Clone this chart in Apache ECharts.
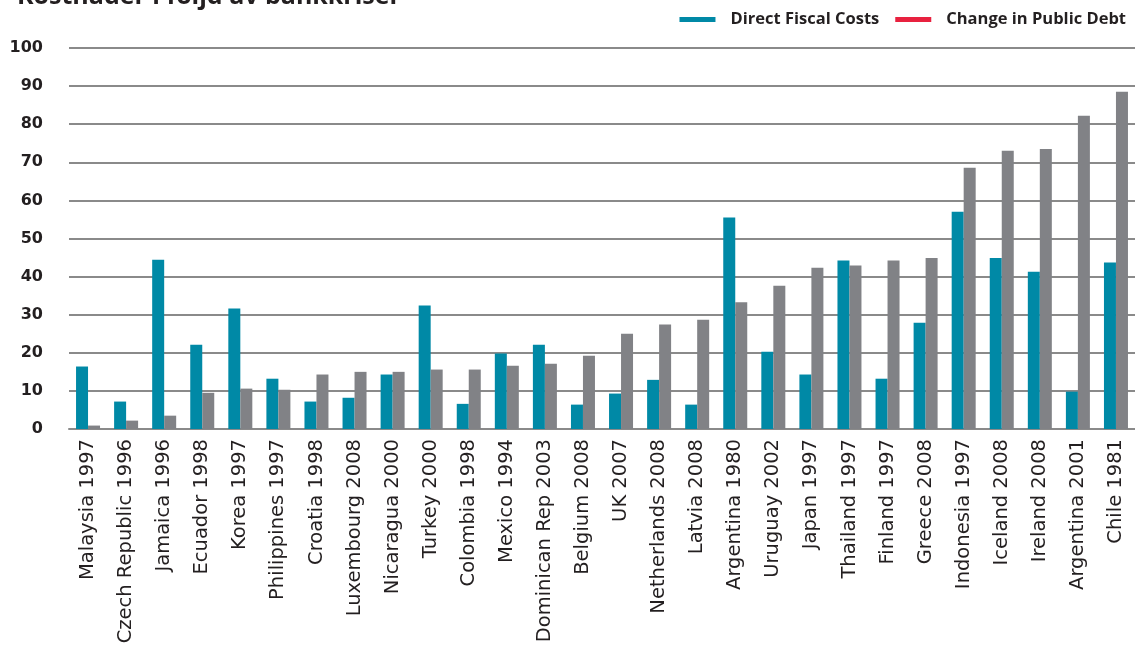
<!DOCTYPE html>
<html>
<head>
<meta charset="utf-8">
<script src="https://cdn.jsdelivr.net/npm/echarts@6/dist/echarts.min.js"></script>
<style>html,body{margin:0;padding:0;background:#fff;}#c{width:1135px;height:650px;}</style>
</head>
<body>
<div id="c"></div>
<script>
const titleText = 'Kostnader i följd av bankkriser';
const categories = ['Malaysia 1997','Czech Republic 1996','Jamaica 1996','Ecuador 1998','Korea 1997','Philippines 1997','Croatia 1998','Luxembourg 2008','Nicaragua 2000','Turkey 2000','Colombia 1998','Mexico 1994','Dominican Rep 2003','Belgium 2008','UK 2007','Netherlands 2008','Latvia 2008','Argentina 1980','Uruguay 2002','Japan 1997','Thailand 1997','Finland 1997','Greece 2008','Indonesia 1997','Iceland 2008','Ireland 2008','Argentina 2001','Chile 1981'];
const directFiscalCosts = [16.4,7.2,44.4,22.1,31.6,13.2,7.2,8.2,14.3,32.4,6.6,19.8,22.1,6.4,9.3,12.9,6.4,55.5,20.3,14.3,44.2,13.2,27.9,57.0,44.9,41.3,9.8,43.7];
const changeInPublicDebt = [0.9,2.2,3.5,9.5,10.6,10.3,14.3,15.0,15.0,15.6,15.6,16.6,17.1,19.2,25.0,27.4,28.7,33.3,37.6,42.3,42.9,44.2,44.9,68.6,73.0,73.5,82.2,88.5];
const seriesNames = ['Direct Fiscal Costs','Change in Public Debt'];

const chart = echarts.init(document.getElementById('c'));
chart.setOption({
  animation: false,
  backgroundColor: '#fff',
  title: {
    text: titleText, left: 12, top: -21,
    textStyle: {fontFamily: 'Open Sans', fontWeight: 'bold', fontSize: 25, color: '#231f20'}
  },
  legend: {
    right: 4, top: 6,
    icon: 'rect', itemWidth: 36, itemHeight: 5, itemGap: 16,
    textStyle: {fontFamily: 'Open Sans', fontWeight: 'bold', fontSize: 16.5, color: '#231f20', padding: [0,0,0,10]},
    data: [
      {name: seriesNames[0], itemStyle: {color: '#0089a6'}},
      {name: seriesNames[1], itemStyle: {color: '#e8213f'}}
    ]
  },
  grid: {left: 69, right: -6, top: 48, bottom: 221, containLabel: false},
  xAxis: {
    type: 'category', data: categories,
    axisLine: {lineStyle: {color: '#8a8a8a', width: 2}},
    axisTick: {inside: true, length: 6, lineStyle: {color: '#8a8a8a', width: 1.5}},
    axisLabel: {rotate: 90, interval: 0, margin: 10, fontFamily: 'DejaVu Sans', fontSize: 19.5, color: '#231f20'}
  },
  yAxis: {
    type: 'value', min: 0, max: 100, interval: 10,
    axisLine: {show: false}, axisTick: {show: false},
    splitLine: {lineStyle: {color: '#8a8a8a', width: 2}},
    axisLabel: {margin: 26, fontFamily: 'DejaVu Sans', fontWeight: 'bold', fontSize: 16, color: '#231f20'}
  },
  series: [
    {name: seriesNames[0], type: 'bar', data: directFiscalCosts, barWidth: 12, barGap: '0%', itemStyle: {color: '#0089a6'}},
    {name: seriesNames[1], type: 'bar', data: changeInPublicDebt, barWidth: 12, barGap: '0%', itemStyle: {color: '#818286'}}
  ]
});
</script>
</body>
</html>
